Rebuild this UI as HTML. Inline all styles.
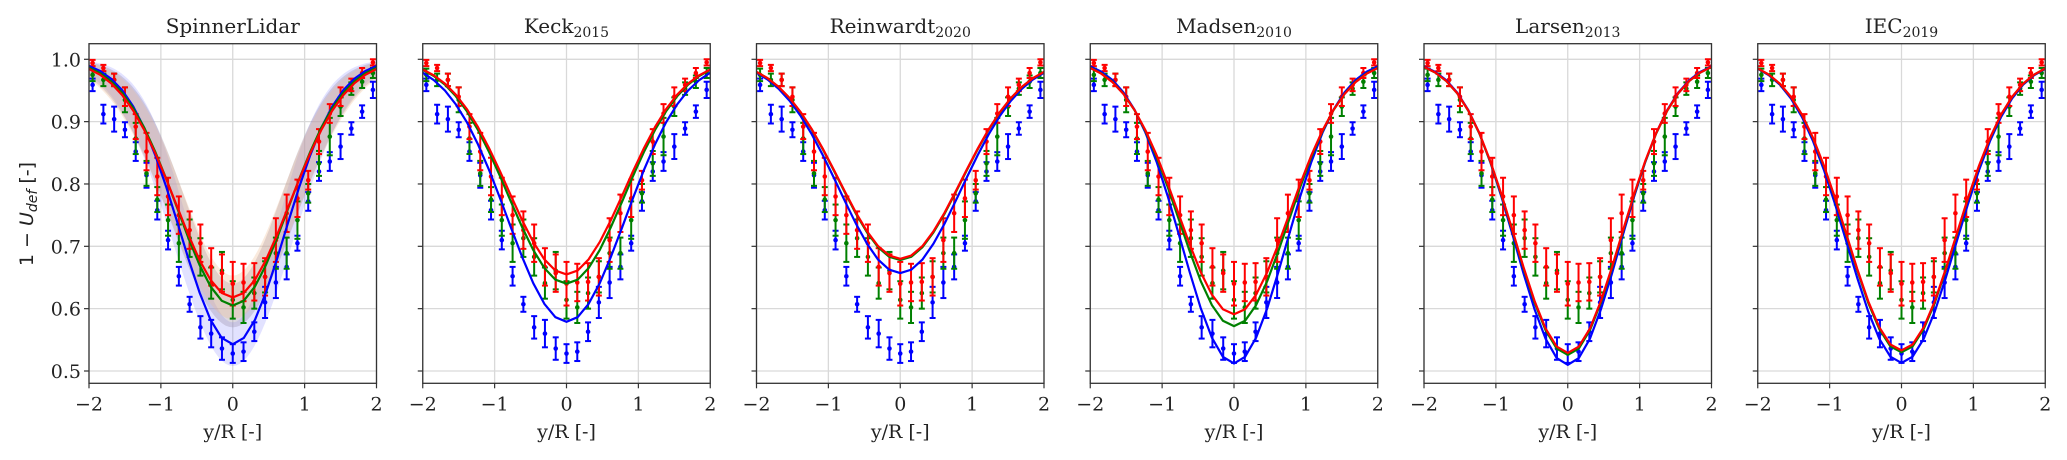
<!DOCTYPE html>
<html><head><meta charset="utf-8"><style>
html,body{margin:0;padding:0;background:#fff;}
svg{display:block;font-family:"DejaVu Serif","Liberation Serif",serif;}
</style></head><body>
<svg id="chart" width="2067" height="460" viewBox="0 0 2067 460" xmlns="http://www.w3.org/2000/svg"></svg>
<script>
// ---- data ----
const panelTitles = ["SpinnerLidar","Keck","Reinwardt","Madsen","Larsen","IEC"];
const panelYears = ["","2015","2020","2010","2013","2019"];
const xPoints = [-1.95,-1.8,-1.65,-1.5,-1.35,-1.2,-1.05,-0.9,-0.75,-0.6,-0.45,-0.3,-0.15,0,0.15,0.3,0.45,0.6,0.75,0.9,1.05,1.2,1.35,1.5,1.65,1.8,1.95];
const blueMeas = [0.959,0.912,0.904,0.887,0.852,0.814,0.758,0.710,0.652,0.607,0.570,0.560,0.536,0.528,0.531,0.563,0.610,0.642,0.667,0.705,0.772,0.820,0.836,0.860,0.889,0.916,0.951];
const greenMeas = [0.975,0.967,0.967,0.935,0.873,0.817,0.775,0.742,0.705,0.713,0.683,0.641,0.661,0.614,0.602,0.625,0.651,0.689,0.689,0.742,0.785,0.833,0.876,0.924,0.953,0.964,0.978];
const redMeas = [0.994,0.986,0.967,0.940,0.892,0.852,0.812,0.780,0.750,0.726,0.705,0.667,0.657,0.640,0.642,0.643,0.651,0.710,0.753,0.777,0.806,0.868,0.913,0.940,0.959,0.978,0.995];
const blueErr = [0.01,0.015,0.02,0.012,0.015,0.02,0.015,0.015,0.015,0.012,0.018,0.022,0.018,0.015,0.015,0.015,0.025,0.025,0.02,0.012,0.015,0.015,0.015,0.02,0.01,0.01,0.013];
const greenErr = [0.01,0.01,0.01,0.02,0.025,0.02,0.02,0.025,0.03,0.03,0.03,0.025,0.03,0.03,0.025,0.025,0.025,0.025,0.025,0.03,0.015,0.02,0.03,0.015,0.01,0.01,0.008];
const redErr = [0.005,0.005,0.01,0.015,0.02,0.03,0.03,0.03,0.03,0.03,0.03,0.03,0.03,0.035,0.03,0.03,0.03,0.035,0.03,0.03,0.015,0.02,0.015,0.015,0.01,0.008,0.005];
// model curve minimum values and widths (per panel)
const blueModelMin = [0.543,0.579,0.657,0.512,0.510,0.513];
const greenModelMin = [0.605,0.640,0.678,0.572,0.526,0.530];
const redModelMin = [0.618,0.655,0.680,0.591,0.529,0.533];
const blueModelWidth = [0.73,0.82,0.85,0.73,0.73,0.76];
const greenModelWidth = [0.77,0.81,0.85,0.76,0.74,0.76];
const redModelWidth = [0.79,0.81,0.85,0.77,0.74,0.76];
const xTicks = [-2,-1,0,1,2];
const yTicks = [0.5,0.6,0.7,0.8,0.9,1.0];

// ---- layout ----
const NS = "http://www.w3.org/2000/svg";
const svg = document.getElementById("chart");
const P0 = 89, PSTEP = 333.75, PW = 287.5, PT = 43.7, PB = 383.3;
const X0 = -2, X1 = 2, Y1 = 1.0, YPX1 = 59.3, PXPERUNIT = 623.4;
function mk(tag, attrs, parent){const e=document.createElementNS(NS,tag);for(const k in attrs)e.setAttribute(k,attrs[k]);(parent||svg).appendChild(e);return e;}
function model(x,mn,w){return 1-(1-mn)*Math.exp(-x*x/(2*w*w));}

for(let p=0;p<6;p++){
  const left = P0 + p*PSTEP;
  const sx = v => left + (v-X0)/(X1-X0)*PW;
  const sy = v => YPX1 + (Y1-v)*PXPERUNIT;
  const g = mk("g",{});
  
  
  const clipId = "clip"+p;
  const cp = mk("clipPath",{id:clipId},g); mk("rect",{x:left,y:PT,width:PW,height:PB-PT},cp);
  // grid
  xTicks.forEach(t=>{ const l=mk("line",{x1:sx(t),x2:sx(t),y1:PT,y2:PB,stroke:"#d9d9d9","stroke-width":1.3},g);
     });
  yTicks.forEach(t=>{ const l=mk("line",{x1:left,x2:left+PW,y1:sy(t),y2:sy(t),stroke:"#d9d9d9","stroke-width":1.3},g);
     });
  const plot = mk("g",{"clip-path":"url(#"+clipId+")"},g);
  // bands for SpinnerLidar
  if(p===0){
    const bands=[[blueModelMin[p],blueModelWidth[p],"#7070ff",0.2],[greenModelMin[p],greenModelWidth[p],"#9a90a8",0.35],[redModelMin[p],redModelWidth[p],"#f0b890",0.3]];
    bands.forEach(b=>{
      let up="",dn="";
      for(let i=0;i<=80;i++){const x=X0+i*(X1-X0)/80;up+=(i?"L":"M")+sx(x).toFixed(1)+","+sy(Math.min(1,model(x,b[0]+0.035,b[1]-0.09))).toFixed(1);}
      for(let i=80;i>=0;i--){const x=X0+i*(X1-X0)/80;dn+="L"+sx(x).toFixed(1)+","+sy(model(x,b[0]-0.035,b[1]+0.09)).toFixed(1);}
      const pa=mk("path",{d:up+dn+"Z",fill:b[2],"fill-opacity":b[3],stroke:"none"},plot);
       
    });
  }
  // errorbars
  const series=[[blueMeas,blueErr,"#0000ff","blue"],[greenMeas,greenErr,"#008000","green"],[redMeas,redErr,"#ff0000","red"]];
  series.forEach(s=>{
    xPoints.forEach((x,i)=>{
      const cx=sx(x), v=s[0][i], e=s[1][i];
      const eg=mk("g",{stroke:s[2],"stroke-width":2},plot);
       
      mk("line",{x1:cx,x2:cx,y1:sy(v-e),y2:sy(v+e)},eg);
      mk("line",{x1:cx-3,x2:cx+3,y1:sy(v-e),y2:sy(v-e)},eg);
      mk("line",{x1:cx-3,x2:cx+3,y1:sy(v+e),y2:sy(v+e)},eg);
      mk("circle",{cx:cx,cy:sy(v),r:2.3,fill:s[2],stroke:"none"},eg);
    });
  });
  // model lines
  const lines=[[blueModelMin,blueModelWidth,"#0000ff","blue"],[greenModelMin,greenModelWidth,"#008000","green"],[redModelMin,redModelWidth,"#ff0000","red"]];
  lines.forEach(L=>{
    let d="";
    for(let i=0;i<=26;i++){const x=X0+i*(X1-X0)/26; d+=(i?"L":"M")+sx(x).toFixed(1)+","+sy(model(x,L[0][p],L[1][p])).toFixed(1);}
    const pa=mk("path",{d:d,fill:"none",stroke:L[2],"stroke-width":2.2},plot);
     
  });
  // frame
  const fr=mk("rect",{x:left,y:PT,width:PW,height:PB-PT,fill:"none",stroke:"#333","stroke-width":1.3},g);
   
  // ticks
  xTicks.forEach(t=>{
    mk("line",{x1:sx(t),x2:sx(t),y1:PB,y2:PB+5,stroke:"#333","stroke-width":1.2},g);
    const tx=mk("text",{x:sx(t),y:PB+27,"font-size":19,"text-anchor":"middle",fill:"#222"},g);
    tx.textContent=(t<0?"\u2212":"")+Math.abs(t);
     
  });
  yTicks.forEach(t=>{
    mk("line",{x1:left-5,x2:left,y1:sy(t),y2:sy(t),stroke:"#333","stroke-width":1.2},g);
    if(p===0){
      const ty=mk("text",{x:left-8,y:sy(t)+7,"font-size":19,"text-anchor":"end",fill:"#222"},g);
      ty.textContent=t.toFixed(1);
       
    }
  });
  // title
  const ti=mk("text",{x:left+PW/2,y:33,"font-size":20,"text-anchor":"middle",fill:"#222"},g);
   
  ti.appendChild(document.createTextNode(panelTitles[p]));
  if(panelYears[p]){const ts=mk("tspan",{"font-size":14,dy:4},ti); ts.textContent=panelYears[p];}
  // xlabel
  const xl=mk("text",{x:left+PW/2,y:438,"font-size":19,"text-anchor":"middle",fill:"#222"},g);
  xl.textContent="y/R [-]";
   
}
// ylabel
const yl=mk("text",{transform:"translate(33,214) rotate(-90)","font-size":19,"text-anchor":"middle",fill:"#222","font-family":"DejaVu Sans, sans-serif"});
 
yl.appendChild(document.createTextNode("1 \u2212 "));
const t1=mk("tspan",{"font-style":"italic"},yl); t1.textContent="U";
const t2=mk("tspan",{"font-style":"italic","font-size":14,dy:4},yl); t2.textContent="def";
const t3=mk("tspan",{dy:-4},yl); t3.textContent=" [-]";
</script>
</body></html>
